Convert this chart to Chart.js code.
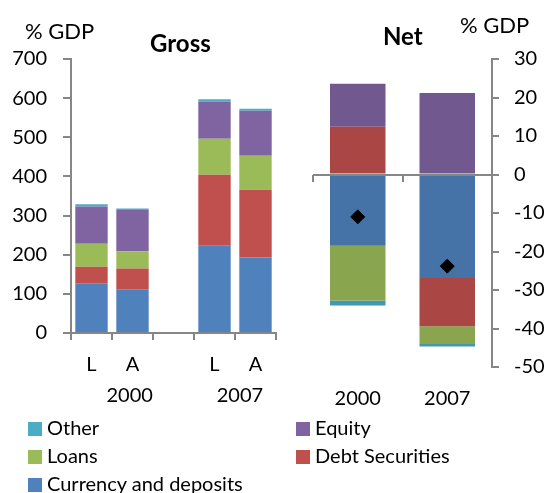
<!DOCTYPE html>
<html>
<head>
<meta charset="utf-8">
<script src="https://cdn.jsdelivr.net/npm/chart.js@4/dist/chart.umd.min.js"></script>
<style>
    body { margin: 0; background: #fff; font-family: Lato, sans-serif; }
    #wrap { position: relative; width: 549px; height: 493px; overflow: hidden; }
    #grossChart { position: absolute; left: 0; top: 0; }
    #netChart { position: absolute; left: 295px; top: 0; }
    .item { position: absolute; font-size: 20px; line-height: 24px; color: #000; white-space: nowrap; }
    .item span { display: inline-block; width: 14px; height: 14px; margin-right: 5px; vertical-align: -1px; }
</style>
</head>
<body>
<div id="wrap">
    <canvas id="grossChart" width="290" height="420"></canvas>
    <canvas id="netChart" width="254" height="420"></canvas>
    <div id="legend"></div>
</div>
<script>
// Gross positions (% GDP): L = liabilities, A = assets
const grossLabels = ['L', 'A', '', 'L', 'A'];
const grossYears = ['2000', '2007'];
const grossCurrency = [127, 112, null, 223, 193];
const grossDebt = [42, 53, null, 181, 173];
const grossLoans = [59, 44, null, 92, 87];
const grossEquity = [95, 105, null, 95, 115];
const grossOther = [6, 4, null, 6, 5];

// Net positions (% GDP)
const netLabels = ['2000', '2007'];
const netCurrency = [-18.5, -26.9];
const netDebt = [12.4, -12.5];
const netLoans = [-14.2, -4.6];
const netEquity = [11.2, 21.2];
const netOther = [-1.3, -0.7];
const netTotal = [-11, -23.8];

const seriesNames = ['Currency and deposits', 'Debt Securities', 'Loans', 'Equity', 'Other'];
const lightColors = ['#4F81BD', '#C0504D', '#9BBB59', '#8064A2', '#4BACC6'];
const darkColors = ['#4572A7', '#AA4643', '#89A54E', '#71588F', '#4198AF'];

const axisGrey = '#868686';
const tickFont = { family: 'Lato', size: 20 };

// titles and year labels, drawn straight on the canvas
function makeText(items) {
    return {
        id: 'panelText',
        afterDraw(chart) {
            const ctx = chart.ctx;
            ctx.save();
            ctx.fillStyle = '#000';
            ctx.textBaseline = 'alphabetic';
            items.forEach(t => {
                ctx.font = t.font;
                ctx.textAlign = t.align || 'left';
                const x = t.at !== undefined ? chart.scales.x.getPixelForValue(t.at) : t.x;
                ctx.fillText(t.text, x, t.y);
            });
            ctx.restore();
        }
    };
}

// zero line of the net panel with tick marks between categories
const zeroLine = {
    id: 'zeroLine',
    afterDatasetsDraw(chart) {
        const ctx = chart.ctx;
        const xs = chart.scales.x;
        const y0 = Math.round(chart.scales.y.getPixelForValue(0));
        ctx.save();
        ctx.strokeStyle = axisGrey;
        ctx.lineWidth = 2;
        ctx.beginPath();
        ctx.moveTo(chart.chartArea.left, y0);
        ctx.lineTo(chart.chartArea.right, y0);
        for (let i = 0; i <= netLabels.length; i++) {
            const x = Math.round(xs.getPixelForValue(i - 0.5));
            ctx.moveTo(x, y0);
            ctx.lineTo(x, y0 + 7);
        }
        ctx.stroke();
        ctx.restore();
    }
};

new Chart(document.getElementById('grossChart').getContext('2d'), {
    type: 'bar',
    data: {
        labels: grossLabels,
        datasets: [grossCurrency, grossDebt, grossLoans, grossEquity, grossOther].map((d, i) => ({
            label: seriesNames[i],
            data: d,
            backgroundColor: lightColors[i],
            borderWidth: 0,
            barPercentage: 0.79,
            categoryPercentage: 1
        }))
    },
    options: {
        responsive: false,
        animation: false,
        layout: { padding: { top: 59, right: 14, left: 0, bottom: 0 } },
        plugins: {
            legend: { display: false },
            tooltip: { enabled: false }
        },
        scales: {
            x: {
                stacked: true,
                grid: { offset: true, drawOnChartArea: false, tickLength: 7, color: axisGrey, lineWidth: 2 },
                border: { color: axisGrey, width: 2 },
                ticks: { color: '#000', font: tickFont, padding: 13, maxRotation: 0 },
                afterFit: s => { s.height = 87; }
            },
            y: {
                stacked: true,
                min: 0,
                max: 700,
                ticks: { stepSize: 100, color: '#000', font: tickFont, padding: 16 },
                grid: { drawOnChartArea: false, tickLength: 8, color: axisGrey, lineWidth: 2 },
                border: { color: axisGrey, width: 2 },
                afterFit: s => { s.width = 71; }
            }
        }
    },
    plugins: [makeText([
        { text: '% GDP', x: 25, y: 39, font: '22px Lato' },
        { text: 'Gross', x: 150, y: 52, font: 'bold 24px Lato' },
        { text: grossYears[0], at: 0.93, y: 402, font: '20px Lato', align: 'center' },
        { text: grossYears[1], at: 3.62, y: 402, font: '20px Lato', align: 'center' }
    ])]
});

const netBars = [netCurrency, netDebt, netLoans, netEquity, netOther].map((d, i) => ({
    label: seriesNames[i],
    data: d,
    backgroundColor: darkColors[i],
    borderWidth: 0,
    barPercentage: 0.62,
    categoryPercentage: 1,
    order: 1
}));

new Chart(document.getElementById('netChart').getContext('2d'), {
    type: 'bar',
    data: {
        labels: netLabels,
        datasets: [{
            type: 'line',
            label: 'Net',
            data: netTotal,
            showLine: false,
            stack: 'net',
            pointStyle: 'rectRot',
            pointRadius: 7,
            backgroundColor: '#000',
            borderColor: '#000',
            order: 0
        }].concat(netBars)
    },
    options: {
        responsive: false,
        animation: false,
        layout: { padding: { top: 59, left: 18, right: 0, bottom: 0 } },
        plugins: {
            legend: { display: false },
            tooltip: { enabled: false }
        },
        scales: {
            x: {
                stacked: true,
                grid: { display: false },
                border: { display: false },
                ticks: { color: '#000', font: tickFont, padding: 12 },
                afterFit: s => { s.height = 53; }
            },
            y: {
                stacked: true,
                position: 'right',
                min: -50,
                max: 30,
                ticks: { stepSize: 10, color: '#000', font: tickFont, padding: 15 },
                grid: { drawOnChartArea: false, tickLength: 7, color: axisGrey, lineWidth: 2 },
                border: { color: axisGrey, width: 2 },
                afterFit: s => { s.width = 57; }
            }
        }
    },
    plugins: [zeroLine, makeText([
        { text: '% GDP', x: 165, y: 33, font: '22px Lato' },
        { text: 'Net', x: 88, y: 45, font: 'bold 24px Lato' }
    ])]
});

// legend in the same two-column layout as the original
const legendOrder = [4, 3, 2, 1, 0];
const legend = document.getElementById('legend');
legendOrder.forEach((k, n) => {
    const div = document.createElement('div');
    div.className = 'item';
    div.style.left = (n % 2 === 0 ? 28 : 296) + 'px';
    div.style.top = (415 + Math.floor(n / 2) * 28) + 'px';
    div.innerHTML = '<span style="background:' + lightColors[k] + '"></span>' + seriesNames[k];
    legend.appendChild(div);
});
</script>
</body>
</html>
